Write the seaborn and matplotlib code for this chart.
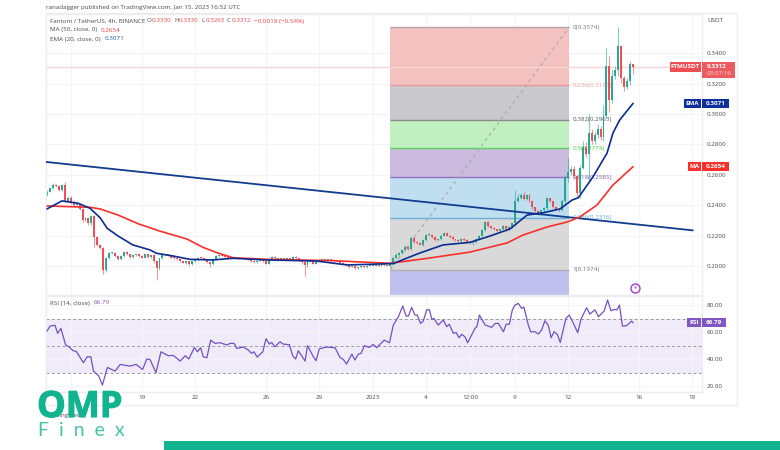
"""Fantom / TetherUS 4h chart with fib levels and RSI pane."""
import numpy as np
import pandas as pd
import matplotlib
import matplotlib.pyplot as plt
import matplotlib.patheffects as pe
import seaborn as sns
from matplotlib.patches import Rectangle

matplotlib.use("Agg")

# 4h closes, one per bar
closes = [
    .2490, .2510, .2535, .2525, .2500, .2530, .2430, .2450, .2415, .2400,
    .2405, .2375, .2300, .2315, .2280, .2330, .2190, .2140, .2120, .1975,
    .2052, .2085, .2085, .2065, .2045, .2065, .2090, .2075, .2060, .2070,
    .2075, .2065, .2055, .2075, .2060, .2070, .2030, .1985, .2050, .2075,
    .2070, .2070, .2055, .2050, .2045, .2030, .2020, .2030, .2010, .2030,
    .2045, .2055, .2050, .2040, .2025, .2010, .2045, .2065, .2070, .2065,
    .2060, .2055, .2050, .2055, .2050, .2045, .2045, .2050, .2040, .2030,
    .2025, .2035, .2040, .2030, .2015, .2045, .2060, .2050, .2045, .2050,
    .2045, .2050, .2045, .2060, .2050, .2040, .2025, .2005, .2040, .2030,
    .2015, .2030, .2040, .2045, .2040, .2045, .2040, .2030, .2035, .2020,
    .2015, .2005, .1995, .2000, .1985, .1990, .1995, .1990, .2000, .2005,
    .2000, .2005, .2000, .2010, .2005, .2000, .2010, .2052, .2072, .2085,
    .2105, .2125, .2110, .2184, .2160, .2150, .2140, .2170, .2203, .2205,
    .2190, .2170, .2175, .2200, .2217, .2200, .2190, .2175, .2170, .2165,
    .2180, .2170, .2160, .2150, .2157, .2175, .2200, .2235, .2290, .2260,
    .2250, .2240, .2230, .2240, .2260, .2240, .2255, .2280, .2430, .2450,
    .2470, .2440, .2465, .2430, .2385, .2360, .2345, .2365, .2380, .2445,
    .2425, .2390, .2375, .2370, .2430, .2580, .2620, .2640, .2590, .2480,
    .2646, .2785, .2735, .2875, .2820, .2865, .2905, .2850, .2990, .3320,
    .3090, .3250, .3290, .3450, .3240, .3180, .3220, .3330, .3312,
]
first_open = .2470

# wick lengths above / below the body, in 0.0001 steps
upper_wick = [
    8, 10, 8, 6, 8, 12, 25, 8, 8, 10,
    8, 6, 8, 10, 6, 8, 4, 8, 6, 6,
    4, 8, 4, 6, 5, 6, 5, 5, 5, 4,
    5, 4, 5, 6, 4, 4, 8, 6, 4, 6,
    6, 3, 3, 4, 3, 4, 3, 3, 3, 3,
    6, 4, 4, 3, 3, 3, 4, 6, 4, 3,
    3, 3, 4, 3, 3, 3, 3, 3, 3, 3,
    3, 3, 3, 3, 3, 6, 8, 6, 4, 3,
    3, 3, 5, 6, 3, 3, 3, 4, 3, 3,
    3, 3, 3, 3, 3, 3, 3, 3, 3, 3,
    3, 3, 3, 3, 3, 3, 3, 3, 3, 3,
    3, 3, 3, 3, 3, 3, 5, 6, 10, 8,
    5, 10, 6, 12, 8, 6, 5, 8, 6, 10,
    6, 6, 5, 8, 8, 6, 4, 5, 5, 4,
    4, 4, 4, 4, 5, 5, 6, 5, 8, 8,
    6, 5, 5, 5, 10, 8, 5, 5, 70, 25,
    10, 20, 10, 8, 5, 6, 5, 5, 10, 6,
    5, 5, 5, 5, 10, 20, 90, 20, 15, 10,
    20, 40, 30, 125, 25, 20, 30, 15, 70, 116,
    60, 40, 30, 124, 0, 10, 20, 20, 0,
]
lower_wick = [
    12, 5, 5, 6, 8, 8, 8, 6, 8, 6,
    8, 6, 8, 6, 8, 8, 65, 10, 10, 30,
    15, 6, 5, 6, 6, 6, 6, 6, 5, 5,
    6, 6, 5, 6, 5, 5, 8, 80, 12, 6,
    5, 4, 4, 4, 4, 4, 4, 6, 10, 5,
    4, 4, 4, 4, 5, 15, 6, 4, 4, 3,
    3, 3, 3, 3, 3, 3, 3, 3, 4, 4,
    4, 4, 4, 4, 5, 4, 3, 3, 3, 3,
    3, 3, 3, 3, 4, 6, 10, 75, 12, 5,
    4, 4, 4, 3, 3, 3, 3, 3, 3, 4,
    4, 5, 8, 5, 8, 4, 4, 3, 3, 3,
    3, 3, 3, 3, 3, 3, 6, 5, 6, 6,
    6, 6, 6, 6, 6, 6, 5, 6, 8, 6,
    6, 5, 5, 6, 6, 5, 5, 5, 6, 8,
    6, 6, 8, 6, 15, 5, 6, 6, 6, 6,
    5, 5, 6, 5, 5, 8, 6, 8, 20, 10,
    10, 8, 6, 10, 10, 8, 12, 8, 8, 10,
    6, 10, 8, 14, 6, 20, 30, 20, 15, 25,
    30, 10, 20, 185, 20, 15, 20, 20, 25, 15,
    75, 15, 20, 40, 35, 30, 15, 30, 47,
]

ma_bar = [0, 14.5, 18, 24, 31, 38, 47.3, 52.7, 57.4, 62.8, 74.3, 96.6, 115.9,
          129.4, 142.9, 155.4, 160.8, 168.9, 175.7, 180, 185.8, 191.2, 198]
ma_val = [.2395, .2386, .2375, .2335, .2276, .2230, .2177, .2122, .2087, .2054, .2043, .2034, .2017,
          .2052, .2091, .2151, .2203, .2256, .2289, .2322, .2401, .2533, .2654]

ema_bar = [0, 5, 10.5, 14.5, 18, 20.3, 24, 29, 34.8, 37, 42.6, 48.3, 56, 62.8, 74.3, 91,
           101.4, 116.9, 126, 133.8, 142.9, 149.7, 156.4, 162.2, 167.6, 173.3, 177.4, 179.5,
           184.5, 189.2, 191.2, 193.5, 198]
ema_val = [.2375, .2428, .2413, .2380, .2316, .2248, .2197, .2138, .2105, .2083, .2065, .2043,
           .2039, .2050, .2039, .2032, .2006, .2015, .2085, .2138, .2155, .2197, .2243, .2335,
           .2350, .2375, .2434, .2449, .2588, .2743, .2876, .2962, .3071]

trend_bar = [-0.34, 218.2]
trend_val = [.2685, .2234]

rsi_bar = [0, 1, 2.7, 3.6, 4.7, 6.3, 7.4, 8.7, 10, 12.3, 13.6, 14.8, 15.7, 17.5, 18.7, 20.4, 23,
           24.7, 28, 30.1, 32.3, 33.7, 34.8, 36.8, 38.5, 39.9, 41, 42.7, 45, 46.7, 47.9, 49.8,
           50.8, 51.9, 52.8, 54, 55.3, 56.8, 58.4, 60.9, 61.8, 63.2, 64.1, 66.3, 68, 69.1, 69.9,
           71, 72.9, 74, 75.1, 75.9, 77, 78.7, 79.8, 81.9, 83, 84, 84.9, 87.2, 88, 90, 90.9, 92,
           94.5, 97.3, 99, 100.1, 101.2, 103, 104, 105.2, 106.1, 107.2, 108.9, 110.2, 111.4,
           112.5, 113.9, 115.7, 117, 118.7, 120.2, 121.3, 122.1, 123.2, 124.3, 125.1, 126.2,
           127.1, 128.3, 129.2, 130, 130.7, 132.2, 133.9, 135, 135.9, 137.3, 138.2, 139.2, 140.1,
           141.2, 142.1, 144.6, 145.2, 146.1, 148, 150.2, 151.4, 152.5, 154.2, 155.1, 156.2,
           157.2, 158.1, 159.2, 160.4, 161.1, 162.6, 163.4, 164.9, 166, 167.1, 168.2, 169.4,
           170.3, 171.3, 172.4, 173.4, 175.3, 176.4, 177.6, 179.3, 180.4, 182.3, 183.4, 185.1,
           186.3, 188.2, 189.4, 190.5, 191.7, 192.5, 193.4, 194.4, 195.8, 197.5, 198]
rsi_val = [60.7, 64.4, 65, 59, 62.7, 50.4, 49.1, 46.4, 45.4, 37.3, 41.7, 41.7, 31.1, 27.4, 20.7,
           33.8, 31.1, 36, 34.8, 36, 32.3, 40, 39.7, 29.9, 45.4, 43.7, 42.5, 42.7, 38.5, 42.5, 40,
           48.6, 45.4, 48.4, 41.7, 41, 54, 51.6, 52.1, 50.4, 51.6, 51.6, 47.9, 48.9, 46.7, 44.2,
           45.4, 41.5, 45.4, 55.1, 51.1, 52.3, 49.1, 52.8, 51.1, 50.6, 42.5, 40, 46.2, 38.5, 49.9,
           41.7, 38.8, 47.6, 48.9, 48.4, 41.2, 39.7, 36.3, 43.7, 39.3, 43.7, 44.2, 49.9, 48.6,
           50.9, 48.4,
           50.9, 54, 52.1, 65.2, 71.4, 79.3, 71.8, 71.8, 78.3, 72.6, 72.6, 66.4, 68.1, 76.5, 76.5,
           69.4, 70.1, 65.2, 68.9, 64, 65.7, 59, 59.7, 55.8, 58.3, 56.5, 52.1, 62.7, 64, 72.6,
           65.2, 63.5, 66.4, 66.4, 60.2, 65.7, 65.9, 76.3, 80, 81.2, 77.5, 78.5, 65.2, 60.2, 60.2,
           58.5, 61.5, 68.4, 64.7, 55.8, 60.2, 58.3, 52.3, 70.1, 72.6, 67.6, 59.5, 69.6, 78, 73.3,
           76.5, 71.4, 75.5, 83.7, 75.8, 76.8, 76.3, 80, 64.4, 64.7, 68.1, 66.79]

fib_prices = [.3574, .3190, .2963, .2774, .2585, .2316, .1974]
fib_texts = ["0(0.3574)", "0.236(0.3190)", "0.382(0.2963)", "0.5(0.2774)",
             "0.618(0.2585)", "0.786(0.2316)", "1(0.1974)"]
fib_start, fib_end = 116, 176.4
fib_bottom = .1808

price_ticks = [.20, .22, .24, .26, .28, .30, .32, .34]
rsi_ticks = [20, 40, 60, 80]
rsi_levels = [30, 50, 70]
time_ticks = [8, 32, 50, 74, 92, 110, 128, 143, 158, 176, 200, 218]
time_labels = ["15", "19", "22", "26", "29", "2023", "4", "12:00", "9", "12", "16", "19"]

GREEN = "#1fa38e"
RED = "#f0444c"
NAVY = "#0c2c8f"
LINE_RED = "#f7302c"
PURPLE = "#7e57c2"
GRID = "#f4f4f8"
EDGE = "#ececf2"
TEXT = "#4a4a50"
BRAND = "#11b48f"
FIB_LINE = ["#b0a8a8", "#e89a9a", "#8c8c8c", "#5fd05f", "#9070c0", "#70b0d8", "#b0b0b0"]
FIB_FILL = ["#f3c2c0", "#c9c9cd", "#c0efc0", "#cbbcdf", "#bfdff1", "#d9d9d9", "#c0c0ef"]
FIB_TEXT = ["#777777", "#eda0a0", "#555555", "#3fd23f", "#7a5ab0", "#5aa8dc", "#777777"]
SMALL = 4.5

sns.set_theme(style="white")
plt.rcParams["font.family"] = ["Open Sans", "DejaVu Sans"]

W, H = 780, 450
L, R = 46, 702
PANE_W = R - L
fig = plt.figure(figsize=(W / 100, H / 100), dpi=100, facecolor="white")
ax = fig.add_axes([L / W, 1 - 295 / H, PANE_W / W, (295 - 14) / H])
ax_rsi = fig.add_axes([L / W, 1 - 392 / H, PANE_W / W, (392 - 296) / H])

closes = np.array(closes)
opens = np.r_[first_open, closes[:-1]]
bars = pd.DataFrame({
    "bar": np.arange(len(closes)),
    "open": opens,
    "close": closes,
    "high": np.maximum(opens, closes) + np.array(upper_wick) * 1e-4,
    "low": np.minimum(opens, closes) - np.array(lower_wick) * 1e-4,
})
bars["up"] = bars["close"] >= bars["open"]

xlim = (-0.34, 221.28)
for a in (ax, ax_rsi):
    a.set_xlim(xlim)
    a.set_xticks(time_ticks)
    a.grid(True, color=GRID, lw=0.8)
    a.set_axisbelow(True)
    for side in ("top", "bottom", "left", "right"):
        a.spines[side].set_color(EDGE)
        a.spines[side].set_linewidth(1)

# price pane
ax.set_ylim(fib_bottom, .3660)
ax.yaxis.tick_right()
ax.set_yticks(price_ticks)
ax.set_yticklabels([f"{t:.4f}" for t in price_ticks], fontsize=SMALL, color=TEXT)
ax.tick_params(axis="y", length=0, pad=3.5)
ax.tick_params(axis="x", length=0, labelbottom=False)

# fib bands, then their level lines and labels
edges = fib_prices + [fib_bottom]
for i, color in enumerate(FIB_FILL):
    ax.add_patch(Rectangle((fib_start, edges[i + 1]), fib_end - fib_start, edges[i] - edges[i + 1],
                           facecolor=color, edgecolor="none", zorder=1))
ax.hlines(fib_prices, fib_start, fib_end, colors=FIB_LINE, lw=1.0, zorder=1.5)
for price, label, color in zip(fib_prices, fib_texts, FIB_TEXT):
    ax.text(fib_end + 1.2, price, label, color=color, fontsize=SMALL, va="center", zorder=1.6)
ax.plot([fib_start, fib_end], [fib_prices[-1], fib_prices[0]], color="#a8a8a8", lw=0.8,
        ls=(0, (3, 3)), zorder=1.7)

ax.axhline(closes[-1], color="#f8d4d4", lw=1, zorder=1.8)

# candles
for is_up, color in ((True, GREEN), (False, RED)):
    part = bars[bars["up"] == is_up]
    ax.vlines(part["bar"], part["low"], part["high"], color=color, lw=0.8, alpha=0.55, zorder=2)
    ax.bar(part["bar"], (part["close"] - part["open"]).abs().clip(lower=.0006),
           bottom=part[["open", "close"]].min(axis=1), width=0.66, color=color, lw=0,
           alpha=0.92, zorder=2.2)

sns.lineplot(x=trend_bar, y=trend_val, color="#123c8c", lw=1.3, ax=ax, zorder=3, errorbar=None)
sns.lineplot(x=ma_bar, y=ma_val, color=LINE_RED, lw=1.2, ax=ax, zorder=3.2, errorbar=None)
sns.lineplot(x=ema_bar, y=ema_val, color=NAVY, lw=1.2, ax=ax, zorder=3.3, errorbar=None)
ax.set_xlabel("")
ax.set_ylabel("")

# flash marker near the last bar
ax.scatter([198.6], [.1854], s=42, facecolor="white", edgecolor="#9b3fc8", lw=1.0, zorder=4)
ax.text(198.6, .1854, "\u26a1", color="#9b3fc8", fontsize=5, ha="center", va="center",
        family="DejaVu Sans", zorder=5)


def flag(pane, value, label, text, color, height, label_w, value_w):
    """Two-part scale flag at a value on the pane's right edge."""
    tf = pane.get_yaxis_transform()
    pane.add_patch(Rectangle((1 - (label_w + 1) / PANE_W, value - height / 2), label_w / PANE_W, height,
                             transform=tf, fc=color, lw=0, clip_on=False, zorder=6))
    pane.add_patch(Rectangle((1, value - height / 2), value_w / PANE_W, height,
                             transform=tf, fc=color, lw=0, clip_on=False, zorder=6))
    pane.text(1 - (label_w / 2 + 1) / PANE_W, value, label, transform=tf, ha="center", va="center",
              color="white", fontsize=SMALL, fontweight="bold", zorder=7)
    pane.text(1 + 4 / PANE_W, value, text, transform=tf, va="center",
              color="white", fontsize=SMALL, fontweight="bold", zorder=7)


flag(ax, ema_val[-1], "EMA", "0.3071", "#0f2f9e", .0060, 17, 27)
flag(ax, ma_val[-1], "MA", "0.2654", LINE_RED, .0060, 13, 27)

# last price flag is taller, it carries the countdown too
yaxis_tf = ax.get_yaxis_transform()
ax.add_patch(Rectangle((1 - 32 / PANE_W, closes[-1] - .0033), 31 / PANE_W, .0066, transform=yaxis_tf,
                       fc="#ee4f55", lw=0, clip_on=False, zorder=6))
ax.text(1 - 16.5 / PANE_W, closes[-1], "FTMUSDT", transform=yaxis_tf, ha="center", va="center",
        color="white", fontsize=SMALL, fontweight="bold", zorder=7)
ax.add_patch(Rectangle((1, .3238), 33 / PANE_W, .0106, transform=yaxis_tf, fc="#ee5a5f", lw=0,
                       clip_on=False, zorder=6))
ax.text(1 + 5 / PANE_W, closes[-1], "0.3312", transform=yaxis_tf, va="center", color="white",
        fontsize=SMALL, fontweight="bold", zorder=7)
ax.text(1 + 5 / PANE_W, .3265, "03:07:16", transform=yaxis_tf, va="center", color="#ffd9d9",
        fontsize=SMALL, zorder=7)

# RSI pane
ax_rsi.set_ylim(15.6, 86.7)
ax_rsi.yaxis.tick_right()
ax_rsi.set_yticks(rsi_ticks)
ax_rsi.set_yticklabels([f"{t:.2f}" for t in rsi_ticks], fontsize=SMALL, color=TEXT)
ax_rsi.tick_params(axis="y", length=0, pad=3.5)
ax_rsi.set_xticklabels(time_labels, fontsize=SMALL, color=TEXT)
ax_rsi.tick_params(axis="x", length=0, pad=2.5)
ax_rsi.axhspan(rsi_levels[0], rsi_levels[2], color="#efebf8", lw=0, zorder=0.5)
ax_rsi.hlines(rsi_levels, *xlim, colors="#9a9aa0", lw=0.7, ls=(0, (3, 2.5)), zorder=1)
sns.lineplot(x=rsi_bar, y=rsi_val, color="#7550c4", lw=0.9, ax=ax_rsi, zorder=3, errorbar=None)
ax_rsi.set_xlabel("")
ax_rsi.set_ylabel("")
flag(ax_rsi, rsi_val[-1], "RSI", "66.79", PURPLE, 6.7, 14, 24)


def px_text(x, y, s, **kw):
    """Figure text placed in reference pixels."""
    kw.setdefault("fontsize", SMALL)
    kw.setdefault("color", TEXT)
    kw.setdefault("va", "center")
    return fig.text(x / W, 1 - y / H, s, **kw)


# outer card and bottom band
fig.add_artist(Rectangle((L / W, 1 - 405 / H), 691 / W, 392 / H, transform=fig.transFigure,
                         fc="none", ec=EDGE, lw=1, zorder=-1))
fig.add_artist(Rectangle((164 / W, 0), 616 / W, 9 / H, transform=fig.transFigure, fc=BRAND, lw=0))

# header
px_text(46, 7, "ranadagger published on TradingView.com, Jan 15, 2023 16:52 UTC")
px_text(50, 21, "Fantom / TetherUS, 4h, BINANCE")
for x, head, val in [(147, "O", "0.3330"), (174, "H", "0.3330"), (201, "L", "0.3265"), (227, "C", "0.3312")]:
    px_text(x, 21, head)
    px_text(x + 5, 21, val, color=RED)
px_text(254, 21, "\u22120.0018 (\u22120.54%)", color=RED)
px_text(50, 30, "MA (50, close, 0)")
px_text(101, 30, "0.2654", color=RED)
px_text(50, 39, "EMA (20, close, 0)")
px_text(105, 39, "0.3071", color="#3050b0")
px_text(50, 303, "RSI (14, close)")
px_text(94, 303, "66.79", color=PURPLE)
px_text(707, 20, "USDT")

# watermark and brand logo on top
px_text(47, 415, "TradingView")
logo = px_text(37, 408, "OMP", fontsize=26, fontweight="bold", color=BRAND, zorder=10)
logo.set_path_effects([pe.withStroke(linewidth=0.8, foreground=BRAND)])
px_text(38, 431, "F  i  n  e  x", fontsize=14, color="#46c4a6", zorder=10, family="Lato")

fig.savefig("out.png", dpi=100)
